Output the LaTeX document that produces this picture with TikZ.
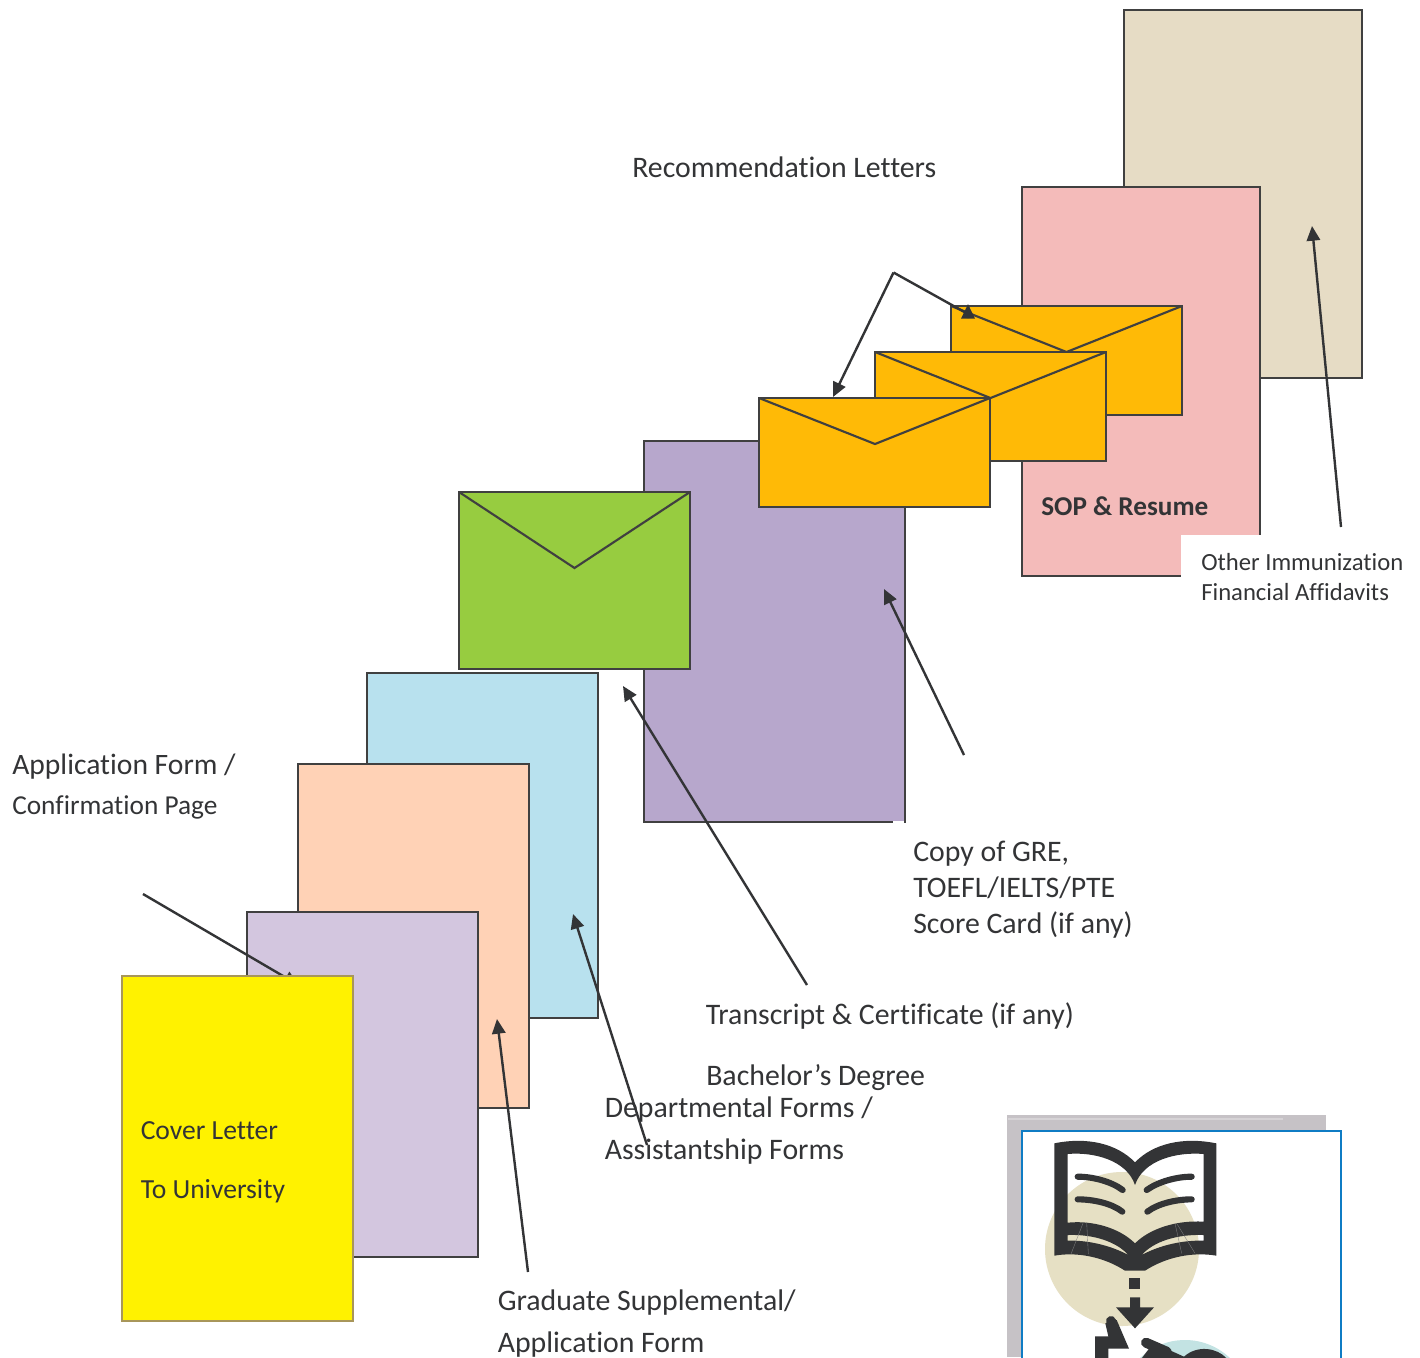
\documentclass[tikz,border=0pt]{standalone}
\usepackage{fontspec}
\setmainfont[Ligatures=NoCommon]{Carlito}
\usetikzlibrary{arrows.meta}
\definecolor{ink}{HTML}{333436}
\definecolor{rim}{HTML}{404040}
\definecolor{tanC}{HTML}{E6DCC5}
\definecolor{pinkC}{HTML}{F4BBBA}
\definecolor{mauveC}{HTML}{B7A7CC}
\definecolor{skyC}{HTML}{B8E1EE}
\definecolor{peachC}{HTML}{FFD2B6}
\definecolor{lilacC}{HTML}{D3C6DF}
\definecolor{amberC}{HTML}{FFBA06}
\definecolor{leafC}{HTML}{97CC40}
\definecolor{lemonC}{HTML}{FFF200}
\definecolor{oliveC}{HTML}{A8965A}
\definecolor{greyC}{HTML}{C6C2C6}
\definecolor{greyD}{HTML}{D6D3D6}
\definecolor{blueC}{HTML}{0F7CC4}
\definecolor{discA}{HTML}{E6E0C4}
\definecolor{discB}{HTML}{C3E3E3}
\tikzset{
  sheet/.style={draw=rim,line width=1.6pt,inner sep=0pt,outer sep=0pt,anchor=north west},
  txt/.style={text=ink,inner sep=0pt,anchor=base west,font=\fontsize{#1}{#1}\selectfont},
  link/.style={draw=ink,line width=1.8pt,-{Triangle[length=11pt,width=10pt]}},
  flap/.style={draw=rim,line width=1.6pt},
  iconline/.style={draw=ink,line width=4.6pt,line cap=round},
  hairline/.style={draw=gray,line width=0.25pt}
}
\newcommand{\sheetat}[6]{\node[sheet,fill=#6,minimum width=#4*0.75pt,minimum height=#5*0.75pt] (#1) at (#2,#3) {};}
\begin{document}
\begin{tikzpicture}[x=0.75pt,y=-0.75pt]
\useasboundingbox (0,0) rectangle (1420,1357);
\clip (0,0) rectangle (1420,1357);
% free ends of connectors
\coordinate (aS) at (143,894);  \coordinate (aE) at (298.5,985);
\coordinate (gS) at (528,1272); \coordinate (gE) at (497,1019);
\coordinate (dS) at (647,1145); \coordinate (dE) at (573,914);
\coordinate (tS) at (807,985);  \coordinate (tE) at (623,686);
\coordinate (cS) at (964,755);  \coordinate (cE) at (884,589);
\coordinate (oS) at (1341,527); \coordinate (oE) at (1312,226);
\coordinate (rJ) at (893.5,272.5);  \coordinate (r1) at (833,397);
\coordinate (r3b) at (968,314); \coordinate (r3) at (968,304);
% sheets
\sheetat{other}{1124}{10}{238}{368}{tanC}
\sheetat{sop}{1022}{187}{238}{389}{pinkC}
\sheetat{score}{644}{441}{261}{381}{mauveC}
\node[fill=white,inner sep=0pt,minimum width=8pt,minimum height=2.5pt,anchor=north west] (scorepatch) at (893,821) {};
\sheetat{dept}{367}{673}{231}{345}{skyC}
\sheetat{grad}{298}{764}{231}{344}{peachC}
\sheetat{form}{247}{912}{231}{345}{lilacC}
\draw[link] (aS) -- (aE);
\node[fill=white,inner sep=0pt,outer sep=0pt,anchor=north west,minimum width=60pt,minimum height=31.5pt] (sopcover) at (1181,535) {};
% envelopes
\sheetat{env4}{951}{306}{231}{109}{amberC}
\draw[flap] (env4.north west) -- (1066.5,352) -- (env4.north east);
\sheetat{env3}{875}{352}{231}{109}{amberC}
\draw[flap] (env3.north west) -- (990.5,398) -- (env3.north east);
\sheetat{env2}{759}{398}{231}{109}{amberC}
\draw[flap] (env2.north west) -- (875,444) -- (env2.north east);
\sheetat{env1}{459}{492}{231}{177}{leafC}
\draw[flap] (env1.north west) -- (574.5,568) -- (env1.north east);
\node[sheet,draw=oliveC,fill=lemonC,minimum width=231*0.75pt,minimum height=345*0.75pt] (cover) at (122,976) {};
% labels
\node[txt=22.35] (t1) at (632,177.5) {Recommendation Letters};
\node[txt=20.6,font=\fontsize{20.4}{20.4}\selectfont\bfseries] (t2) at (1041,515) {SOP \& Resume};
\node[txt=18.5] (t3) at (1201,570.5) {Other Immunization};
\node[txt=18.5] (t4) at (1201,600.5) {Financial Affidavits};
\node[txt=22.35] (t5) at (913,861) {Copy of GRE,};
\node[txt=22.35] (t6) at (913,897.5) {TOEFL/IELTS/PTE};
\node[txt=22.35] (t7) at (913,933.5) {Score Card (if any)};
\node[txt=22.35] (t8) at (705.5,1024.5) {Transcript \& Certificate (if any)};
\node[txt=22.35] (t9) at (706,1085.5) {Bachelor’s Degree};
\node[txt=22.35] (t10) at (604.5,1117.5) {Departmental Forms /};
\node[txt=22.35] (t11) at (604.5,1159.5) {Assistantship Forms};
\node[txt=22.35] (t12) at (497.5,1310.5) {Graduate Supplemental/};
\node[txt=22.35] (t13) at (497.5,1352.5) {Application Form};
\node[txt=22.2] (t14) at (12,774.5) {Application Form /};
\node[txt=20.5] (t15) at (12,814.5) {Confirmation Page};
\node[txt=20.7] (t16) at (140.5,1139.5) {Cover Letter};
\node[txt=20.7] (t17) at (140.5,1198) {To University};
% connectors over the sheets
\draw[link] (gS) -- (gE);
\draw[link] (dS) -- (dE);
\draw[link] (tS) -- (tE);
\draw[link] (cS) -- (cE);
\draw[link] (oS) -- (oE);
\draw[link] (rJ) -- (r1);
\draw[link] (rJ) -- (r3b) -- (r3);
% icon panel
\fill[greyC] (1007,1115) rectangle (1326,1357);
\fill[greyD] (1008,1118) rectangle (1283,1120);
\draw[draw=blueC,line width=1.5pt,fill=white] (1022,1130.5) rectangle (1341,1400);
\fill[discA] (1122,1249) circle[radius=77];
\fill[discB] (1185,1405) circle[radius=65];
\begin{scope}[shift={(1000,1110)},x=0.25pt,y=-0.25pt]
 \fill[ink,even odd rule]
  (163,100) .. controls (260,80) and (350,100) .. (405,157)
  .. controls (460,100) and (550,80) .. (649,100)
  -- (649,437) .. controls (580,425) and (500,440) .. (435,482)
  -- (375,482) .. controls (310,440) and (230,425) .. (163,437) -- cycle
  (203,132) .. controls (280,125) and (380,150) .. (405,225)
  .. controls (430,150) and (530,125) .. (611,132)
  -- (611,335) .. controls (530,330) and (450,355) .. (405,400)
  .. controls (360,355) and (280,330) .. (203,338) -- cycle
  (203,375) .. controls (280,372) and (350,395) .. (385,435)
  .. controls (330,405) and (260,390) .. (203,392) -- cycle
  (611,375) .. controls (530,372) and (460,395) .. (425,435)
  .. controls (480,405) and (550,390) .. (611,392) -- cycle;
 \draw[hairline] (250,337) -- (213,432);
 \draw[hairline] (260,337) -- (265,432);
 \draw[hairline] (525,340) -- (545,430);
 \draw[hairline] (530,340) -- (585,430);
 \draw[iconline] (233,200) .. controls (280,200) and (335,215) .. (368,240);
 \draw[iconline] (233,268) .. controls (280,268) and (335,280) .. (367,305);
 \draw[iconline] (575,200) .. controls (530,200) and (475,215) .. (440,240);
 \draw[iconline] (575,268) .. controls (530,268) and (475,280) .. (442,305);
 \fill[ink] (387,505) rectangle (420,537);
 \fill[ink] (390,562) -- (420,562) -- (420,592) -- (462,592) -- (405,655) -- (348,592) -- (390,592) -- cycle;
 \draw[ink,line width=7.5pt,line cap=round] (333,633) -- (350,680);
 \fill[ink] (285,679) -- (325,679) -- (316,640) -- (350,630) -- (387,716) -- (325,716) -- (325,745) -- (285,745) -- cycle;
 \draw[ink,line width=7.5pt,line cap=round] (438,698) -- (500,725);
 \fill[ink] (425,745) -- (450,712) -- (490,712) -- (552,740) .. controls (590,705) and (650,712) .. (680,745) -- cycle;
\end{scope}
\end{tikzpicture}
\end{document}
